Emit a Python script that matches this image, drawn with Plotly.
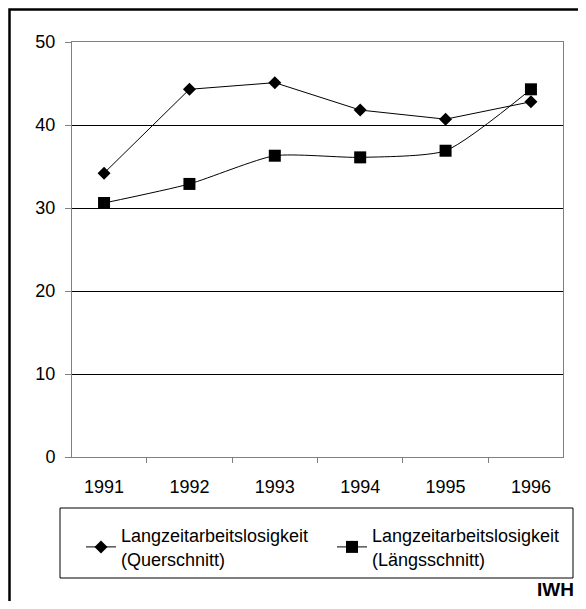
import plotly.graph_objects as go

years = ["1991", "1992", "1993", "1994", "1995", "1996"]
quer = [34.2, 44.3, 45.1, 41.8, 40.7, 42.8]
laengs = [30.6, 32.9, 36.3, 36.1, 36.9, 44.3]
name_quer = "Langzeitarbeitslosigkeit<br>(Querschnitt)"
name_laengs = "Langzeitarbeitslosigkeit<br>(Längsschnitt)"
y_ticks = [0, 10, 20, 30, 40, 50]

# page body has an 8px margin; figure is placed at screen (8, 8)
OFF = 8
W, H = 570, 593
SL, SR, ST, SB = 72, 563, 42, 457   # plot area in screen px
L, T = SL - OFF, ST - OFF
R = W - (SR - OFF)
B = H - (SB - OFF)
pw, ph = SR - SL, SB - ST

def px_x(p):
    return (p - SL) / pw

def px_y(p):
    return (SB - p) / ph

fig = go.Figure()
fig.add_trace(go.Scatter(x=years, y=quer, name=name_quer, mode="lines+markers",
                         line=dict(color="black", width=1),
                         marker=dict(symbol="diamond", size=10, color="black"),
                         legend="legend"))
fig.add_trace(go.Scatter(x=years, y=laengs, name=name_laengs, mode="lines+markers",
                         line=dict(color="black", width=1, shape="spline", smoothing=0.6),
                         marker=dict(symbol="square", size=12, color="black"),
                         legend="legend2"))

leg_common = dict(orientation="h", xanchor="left", yanchor="top", borderwidth=0,
                  font=dict(size=18), bgcolor="rgba(0,0,0,0)", itemwidth=30)

fig.update_layout(
    width=W, height=H,
    margin=dict(l=L, r=R, t=T, b=B),
    paper_bgcolor="white", plot_bgcolor="white",
    font=dict(family="Liberation Sans, Arial, sans-serif", color="black"),
    showlegend=True,
    legend=dict(x=px_x(81), y=px_y(517), **leg_common),
    legend2=dict(x=px_x(332), y=px_y(517), **leg_common),
    xaxis=dict(type="category", tickson="boundaries", ticks="outside", ticklen=5,
               tickcolor="#808080", showline=True, linecolor="#808080", linewidth=1,
               mirror=True, showgrid=False, tickfont=dict(size=18),
               ticklabelstandoff=13, fixedrange=True),
    yaxis=dict(range=[0, 50], tickvals=y_ticks, ticks="outside", ticklen=6,
               tickcolor="#808080", showline=True, linecolor="#808080", linewidth=1,
               mirror=True, showgrid=True, gridcolor="black", gridwidth=1,
               zeroline=False, tickfont=dict(size=18), ticklabelstandoff=6),
)

# outer frame
fig.add_shape(type="rect", xref="paper", yref="paper",
              x0=px_x(9.5), x1=px_x(620), y0=px_y(640), y1=px_y(9.5),
              line=dict(color="black", width=2.5))
# legend box
fig.add_shape(type="rect", xref="paper", yref="paper",
              x0=px_x(60), x1=px_x(573), y0=px_y(578), y1=px_y(508),
              line=dict(color="black", width=1), layer="below")

fig.add_annotation(text="<b>IWH</b>", xref="paper", yref="paper",
                   x=px_x(575), y=px_y(601), xanchor="right", yanchor="bottom",
                   borderpad=0, showarrow=False, font=dict(size=19, color="black"))

fig.write_html("out.html")
